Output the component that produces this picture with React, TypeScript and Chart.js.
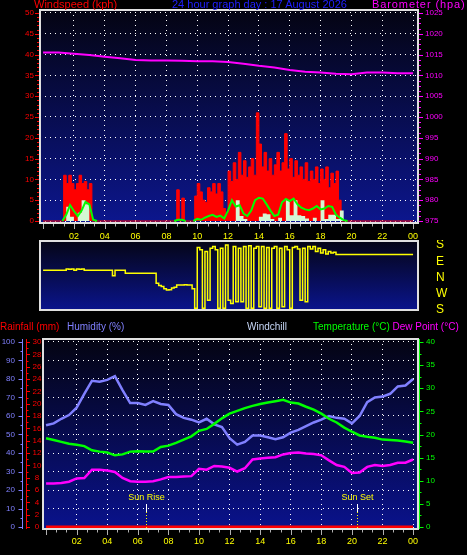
import React, { useEffect, useRef } from "react";
import { Chart, registerables } from "chart.js";

Chart.register(...registerables);

const FONT = '"Liberation Sans", Arial, sans-serif';

// ---------- DATA ----------
const TITLE_WIND = "Windspeed (kph)";
const TITLE_DATE = "24 hour graph day : 17 August 2026";
const TITLE_BARO = "Barometer (hpa)";
const TITLE_RAIN = "Rainfall (mm)";
const TITLE_HUM = "Humidity (%)";
const TITLE_CHILL = "Windchill";
const TITLE_TEMP = "Temperature (°C)";
const TITLE_DEW = "Dew Point (°C)";

// wind gust, one value per 10 minutes (00:00 .. 24:00)
const WIND_GUST = [
  0, 0, 0, 0, 0, 0, 0, 0, 0,
  11, 9, 11, 9, 7.5, 9, 11, 9, 9.5, 7.5, 9,
  0, 0, 0, 0, 0, 0, 0, 0, 0, 0, 0, 0, 0, 0, 0, 0, 0, 0, 0, 0, 0, 0, 0, 0, 0, 0, 0, 0, 0, 0, 0, 0, 0,
  7.5, 0, 5.5,
  0, 0, 0, 0,
  6, 9, 7, 5, 4.5, 8, 7, 9, 6.5, 9,
  7, 3, 1.5, 12, 9.5, 14, 10, 16.5, 11, 14.5,
  10.5, 13, 15, 11, 26, 18.5, 13, 16.5, 12, 15,
  11, 13.5, 16.5, 12, 14, 21, 12.5, 15, 10.5, 14.5,
  11, 13, 10, 14, 9.5, 12, 10, 13, 9, 12.5,
  10, 13, 8, 11.5, 9, 12, 5,
  0, 0, 0, 0, 0, 0, 0, 0, 0, 0, 0, 0, 0, 0, 0, 0, 0, 0, 0, 0, 0, 0, 0, 0, 0, 0, 0, 0,
];
// average wind, one value per 15 minutes
const WIND_AVG = [
  null, null, null, null, null, 0,
  1.5, 3.8, 2.4, 1.2, 2.5, 4.6, 4,
  0.3, 0,
  null, null, null, null, null, null, null, null, null, null, null, null, null, null, null, null, null, null, null,
  0, 0.3, 0.3, 0, null, 0,
  0.5, 0.3, 0.8, 1.2, 1.5, 1.0, 1.3, 0.6, 2.5, 5.0,
  3.5, 3.8, 1.8, 1.2, 2.5, 5.0, 5.6, 5.4, 4.0, 2.5,
  1.2, 1.5, 4.5, 5.3, 4.8, 5.4, 4.0, 3.2, 2.8, 2.6,
  3.0, 3.6, 2.8, 3.0, 3.6, 3.4, 1.5, 0.8,
  0.2, 0,
  null, null, null, null, null, null, null, null, null, null, null, null, null, null, null, null, null,
];
// wind speed, one value per 15 minutes
const WIND_SPEED = [
  0, 0, 0, 0, 0, 0, 0,
  3.4, 1, 0, 2, 5, 4,
  0, 0, 0, 0, 0, 0, 0, 0, 0, 0, 0, 0, 0, 0, 0, 0, 0, 0, 0, 0, 0, 0,
  0, 0, 0, 0, 0, 0, 0, 0, 0, 0, 0, 0, 0, 0, 0, 0,
  5, 1.2, 0.5, 0, 0, 0, 1.0, 1.8, 1.6, 0.5,
  0, 0.8, 0, 5, 1.4, 5, 1.4, 1.2, 0.6, 0,
  0.8, 0, 5, 0.5, 1.5, 1.5, 0.5, 2.5, 0,
  0, 0, 0, 0, 0, 0, 0, 0, 0, 0, 0, 0, 0, 0, 0, 0, 0, 0, 0,
];
// barometer, hourly
const BAROMETER = [
  1015.5, 1015.5, 1015.2, 1014.9, 1014.5, 1014.1, 1013.7, 1013.6, 1013.6, 1013.5,
  1013.4, 1013.4, 1013.2, 1012.8, 1012.3, 1011.9, 1011.3, 1010.9, 1010.7, 1010.4,
  1010.3, 1010.7, 1010.7, 1010.5, 1010.5,
];
// wind direction, every 10 minutes; 0 = S, 1 = W, 2 = N, 3 = E, 4 = S
const DIR_LABELS = ["S", "W", "N", "E", "S"];
const WIND_DIR = [
  2.45, 2.45, 2.45, 2.45, 2.45, 2.45, 2.45, 2.45, 2.45, 2.45,
  2.52, 2.5, 2.52, 2.45, 2.52, 2.5, 2.52, 2.45,
  2.45, 2.45, 2.45, 2.45, 2.45, 2.45, 2.45, 2.45, 2.45, 2.45,
  2.1,
  2.45, 2.45, 2.45, 2.45,
  2.26, 2.26, 2.26, 2.26, 2.26, 2.26, 2.26, 2.26, 2.26, 2.26, 2.26, 2.26,
  1.64, 1.5, 1.45, 1.3, 1.23, 1.25, 1.35, 1.4, 1.54, 1.54, 1.54, 1.56, 1.54, 1.54, 1.3, 0.1,
  3.85, 3.7, 0.1, 3.6, 0.6, 3.8, 3.9, 3.7, 0.1, 3.8, 0.1, 4.0,
  0.6, 0.4, 3.9, 0.5, 3.8, 0.5,
  3.9, 0.1, 3.95, 0.1, 3.8, 3.9, 0.2, 3.9, 0.1, 3.85, 0.1, 3.8, 3.9, 0.1, 3.8, 0.2,
  3.9, 3.7, 0.1, 3.85, 3.9, 3.75, 0.6, 3.8, 0.5,
  3.9, 3.75, 3.9, 3.6, 3.8, 3.5, 3.7, 3.45, 3.6, 3.5, 3.55, 3.42,
  3.42, 3.42, 3.42, 3.42, 3.42, 3.42, 3.42, 3.42, 3.42, 3.42,
  3.42, 3.42, 3.42, 3.42, 3.42, 3.42, 3.42, 3.42, 3.42, 3.42,
  3.42, 3.42, 3.42, 3.42, 3.42, 3.42, 3.42, 3.42, 3.42,
];
// bottom chart, every 30 minutes
const HUMIDITY = [
  55, 56, 58.5, 60.5, 64.5, 72, 79, 78.5, 79.5, 81.5,
  74, 67, 67, 66, 68, 66.5, 66, 61, 59, 58,
  56.5, 58.5, 55.5, 54, 48, 44.5, 46, 49.5, 49.5, 48.5,
  47.5, 48.5, 51, 52.5, 54.5, 56.5, 58, 60, 59, 58.5,
  56, 60, 67.5, 70, 70.5, 72, 76, 76.5, 80,
];
const TEMPERATURE = [
  19.2, 18.8, 18.4, 18.0, 17.8, 17.5, 16.6, 16.3, 16.1, 15.5,
  15.7, 16.3, 16.4, 16.3, 16.3, 17.3, 17.6, 18.2, 18.9, 19.6,
  20.8, 21.2, 22.3, 23.5, 24.5, 25.1, 25.7, 26.2, 26.6, 26.9,
  27.2, 27.5, 26.9, 26.7, 26.0, 25.4, 24.5, 23.4, 22.6, 21.5,
  20.6, 19.8, 19.5, 19.3, 18.9, 18.8, 18.7, 18.5, 18.2,
];
const DEW_POINT = [
  9.4, 9.4, 9.5, 9.8, 10.5, 10.6, 12.4, 12.4, 12.2, 11.9,
  10.6, 9.9, 9.8, 9.8, 9.9, 10.3, 10.8, 10.8, 10.9, 11.0,
  12.6, 12.4, 13.2, 13.1, 12.8, 12.0, 12.7, 14.6, 14.8, 15.0,
  15.1, 15.7, 16.0, 16.1, 15.9, 15.8, 15.5, 14.4, 13.4, 13.0,
  11.7, 11.8, 13.0, 13.4, 13.2, 13.4, 13.9, 13.9, 14.6,
];
// rainfall, hourly
const RAINFALL = [0, 0, 0, 0, 0, 0, 0, 0, 0, 0, 0, 0, 0, 0, 0, 0, 0, 0, 0, 0, 0, 0, 0, 0, 0];
const SUN_EVENTS = [
  { h: 6.52, text: "Sun Rise" },
  { h: 20.32, text: "Sun Set" },
];

// ---------- HELPERS ----------
const toPoints = (vals: (number | null)[], perHour: number) =>
  vals.map((y, i) => ({ x: i / perHour, y }));

const X_MIN = -0.2;
const X_MAX = 24.32;
const HOUR_TICKS = Array.from({ length: 37 }, (_, k) => (k * 2) / 3);

const evenHour = (v: number) => {
  const r = Math.round(v);
  return Math.abs(v - r) < 1e-6 && r % 2 === 0 && r > 0;
};
const hourLabel = (v: any) => {
  const n = Number(v);
  if (!evenHour(n)) return "";
  return String(Math.round(n) % 24).padStart(2, "0");
};
const plainLabel = (v: any) => String(Math.round(Number(v) * 100) / 100);

const noPad = (s: any) => {
  s.paddingTop = 0;
  s.paddingBottom = 0;
  s.paddingLeft = 0;
  s.paddingRight = 0;
};

interface Mark {
  scale: string;
  edge: "left" | "right" | "top" | "bottom";
  offset: number;
  dir: number;
  color: string;
  from: number;
  to: number;
  step: number;
  majorEvery: number;
  major: number;
  minor: number;
  line?: boolean;
}

function makeDeco(cfg: {
  bgTop: string;
  bgBottom: string;
  frame: string;
  marks: Mark[];
  suns?: { h: number; text: string }[];
}) {
  return {
    id: "deco",
    beforeDraw(chart: any) {
      const { ctx, chartArea: a } = chart;
      const g = ctx.createLinearGradient(0, a.top, 0, a.bottom);
      g.addColorStop(0, cfg.bgTop);
      g.addColorStop(1, cfg.bgBottom);
      ctx.save();
      ctx.fillStyle = g;
      ctx.fillRect(a.left, a.top, a.right - a.left, a.bottom - a.top);
      ctx.restore();
    },
    afterDraw(chart: any) {
      const { ctx, chartArea: a } = chart;
      ctx.save();
      ctx.lineWidth = 1;
      ctx.setLineDash([]);
      for (const m of cfg.marks) {
        const s: any = chart.scales[m.scale];
        if (!s) continue;
        const horiz = s.isHorizontal();
        let base =
          m.edge === "left" ? s.left : m.edge === "right" ? s.right : m.edge === "top" ? s.top : s.bottom;
        base += m.offset;
        ctx.strokeStyle = m.color;
        ctx.beginPath();
        if (m.line) {
          if (horiz) {
            ctx.moveTo(a.left, base);
            ctx.lineTo(a.right, base);
          } else {
            ctx.moveTo(base, a.top);
            ctx.lineTo(base, a.bottom);
          }
        }
        const n = Math.round((m.to - m.from) / m.step);
        for (let k = 0; k <= n; k++) {
          const v = m.from + k * m.step;
          const p = Math.round(s.getPixelForValue(v)) + 0.5;
          const len = k % m.majorEvery === 0 ? m.major : m.minor;
          if (horiz) {
            ctx.moveTo(p, base);
            ctx.lineTo(p, base + m.dir * len);
          } else {
            ctx.moveTo(base, p);
            ctx.lineTo(base + m.dir * len, p);
          }
        }
        ctx.stroke();
      }
      if (cfg.suns) {
        const xs: any = chart.scales.x;
        for (const sm of cfg.suns) {
          const x = Math.round(xs.getPixelForValue(sm.h)) + 0.5;
          ctx.setLineDash([]);
          ctx.strokeStyle = "#ffffff";
          ctx.beginPath();
          ctx.moveTo(x, a.bottom - 25);
          ctx.lineTo(x, a.bottom - 17);
          ctx.stroke();
          ctx.strokeStyle = "#ffff00";
          ctx.setLineDash([1, 2]);
          ctx.beginPath();
          ctx.moveTo(x, a.bottom - 17);
          ctx.lineTo(x, a.bottom);
          ctx.stroke();
          ctx.setLineDash([]);
          ctx.fillStyle = "#ffff00";
          ctx.font = `9px ${FONT}`;
          ctx.textAlign = "center";
          ctx.textBaseline = "middle";
          ctx.fillText(sm.text, x, a.bottom - 31);
        }
      }
      ctx.setLineDash([]);
      ctx.strokeStyle = cfg.frame;
      ctx.lineWidth = 2;
      ctx.strokeRect(a.left, a.top, a.right - a.left, a.bottom - a.top);
      ctx.restore();
    },
  };
}

const xAxis = (height: number, padding: number) => ({
  type: "linear",
  min: X_MIN,
  max: X_MAX,
  afterBuildTicks: (s: any) => {
    s.ticks = HOUR_TICKS.map((v) => ({ value: v }));
  },
  afterFit: (s: any) => {
    s.height = height;
    noPad(s);
  },
  grid: {
    color: (c: any) => (c.tick && evenHour(c.tick.value) ? "#ffffff" : "rgba(0,0,0,0)"),
    lineWidth: 1,
    drawTicks: false,
  },
  border: { display: false, dash: [1, 4] },
  ticks: {
    color: "#ffff00",
    font: { size: 9, family: FONT },
    padding,
    autoSkip: false,
    maxRotation: 0,
    callback: hourLabel,
  },
});

const xMarks = (): Mark => ({
  scale: "x",
  edge: "top",
  offset: 1,
  dir: 1,
  color: "#b0b0b0",
  from: 0,
  to: 24,
  step: 2 / 3,
  majorEvery: 3,
  major: 5,
  minor: 2.5,
});

const yAxis = (position: string, width: number, min: number, max: number, step: number, color: string, padding: number, extra: any = {}) => ({
  position,
  min,
  max,
  afterFit: (s: any) => {
    s.width = width;
    noPad(s);
  },
  ticks: { stepSize: step, includeBounds: false, color, font: { size: 8, family: FONT }, padding, callback: plainLabel, ...(extra.ticks || {}) },
  grid: extra.grid || { display: false, drawTicks: false },
  border: extra.border || { display: false },
  weight: extra.weight || 0,
});

function topConfig(): any {
  return {
    type: "line",
    data: {
      datasets: [
        {
          data: toPoints(WIND_AVG, 4),
          borderColor: "#00ff00",
          borderWidth: 2,
          pointRadius: 0,
          fill: false,
          spanGaps: false,
          yAxisID: "y",
          order: 0,
        },
        {
          data: toPoints(WIND_SPEED, 4),
          borderColor: "rgba(0,0,0,0)",
          borderWidth: 0,
          backgroundColor: "#d4f8d4",
          fill: "origin",
          stepped: "after",
          pointRadius: 0,
          yAxisID: "y",
          order: 1,
        },
        {
          data: toPoints(WIND_GUST, 6),
          borderColor: "#ff0000",
          backgroundColor: "#ff0000",
          borderWidth: 1,
          fill: "origin",
          stepped: "after",
          pointRadius: 0,
          yAxisID: "y",
          order: 2,
        },
        {
          data: toPoints(BAROMETER, 1),
          borderColor: "#ff00ff",
          borderWidth: 2,
          pointRadius: 0,
          fill: false,
          yAxisID: "yB",
          order: 3,
        },
      ],
    },
    options: {
      responsive: false,
      animation: false,
      events: [],
      layout: { padding: { top: 10, left: 0, right: 0, bottom: 0 } },
      plugins: { legend: { display: false }, tooltip: { enabled: false } },
      scales: {
        x: xAxis(17, 8),
        y: yAxis("left", 40, -0.48, 50.72, 5, "#ff0000", 6, {
          grid: { color: "#ffffff", lineWidth: 1, drawTicks: false },
          border: { display: false, dash: [1, 4] },
        }),
        yB: yAxis("right", 49, 974.52, 1025.72, 5, "#ff00ff", 7),
      },
    },
    plugins: [
      makeDeco({
        bgTop: "#040412",
        bgBottom: "#0c168e",
        frame: "#e0e0e0",
        marks: [
          xMarks(),
          { scale: "y", edge: "right", offset: -1, dir: -1, color: "#ff0000", from: 0, to: 50, step: 1, majorEvery: 5, major: 4, minor: 2 },
          { scale: "yB", edge: "left", offset: 1, dir: 1, color: "#ff00ff", from: 975, to: 1025, step: 1.25, majorEvery: 4, major: 4, minor: 2 },
        ],
      }),
    ],
  };
}

function dirConfig(): any {
  return {
    type: "line",
    data: {
      datasets: [
        {
          data: toPoints(WIND_DIR, 6),
          borderColor: "#ffff00",
          borderWidth: 1.5,
          pointRadius: 0,
          fill: false,
          stepped: "after",
        },
      ],
    },
    options: {
      responsive: false,
      animation: false,
      events: [],
      layout: { padding: { top: 1, left: 40, right: 0, bottom: 10 } },
      plugins: { legend: { display: false }, tooltip: { enabled: false } },
      scales: {
        x: { type: "linear", min: X_MIN, max: X_MAX, display: false },
        y: {
          position: "right",
          min: 0,
          max: 4.246,
          afterFit: (s: any) => {
            s.width = 49;
            noPad(s);
          },
          afterBuildTicks: (s: any) => {
            s.ticks = DIR_LABELS.map((_, i) => ({ value: i }));
          },
          ticks: {
            color: "#ffff00",
            font: { size: 12, family: FONT },
            padding: 18,
            autoSkip: false,
            callback: (v: any) => DIR_LABELS[Math.round(Number(v))] ?? "",
          },
          grid: { display: false, drawTicks: false },
          border: { display: false },
        },
      },
    },
    plugins: [makeDeco({ bgTop: "#050516", bgBottom: "#0a148c", frame: "#e0e0e0", marks: [] })],
  };
}

function bottomConfig(): any {
  return {
    type: "line",
    data: {
      datasets: [
        { data: toPoints(TEMPERATURE, 2), borderColor: "#00ff00", borderWidth: 2.5, pointRadius: 0, fill: false, yAxisID: "yT", order: 0 },
        { data: toPoints(DEW_POINT, 2), borderColor: "#ff00ff", borderWidth: 2.5, pointRadius: 0, fill: false, yAxisID: "yT", order: 1 },
        { data: toPoints(HUMIDITY, 2), borderColor: "#8080ff", borderWidth: 2.5, pointRadius: 0, fill: false, yAxisID: "yH", order: 2 },
        { data: toPoints(RAINFALL, 1), borderColor: "#ff0000", borderWidth: 3, pointRadius: 0, fill: false, yAxisID: "yR", order: 3 },
      ],
    },
    options: {
      responsive: false,
      animation: false,
      events: [],
      layout: { padding: { top: 21, left: 0, right: 0, bottom: 0 } },
      plugins: { legend: { display: false }, tooltip: { enabled: false } },
      scales: {
        x: xAxis(26, 7.5),
        yH: yAxis("left", 23, -1.08, 101.62, 10, "#8080ff", 8, {
          weight: 1,
          grid: { color: "#ffffff", lineWidth: 1, drawTicks: false },
          border: { display: false, dash: [1, 4] },
        }),
        yR: yAxis("left", 20, -0.32, 30.49, 2, "#ff0000", 1.5, { weight: 0, ticks: { crossAlign: "center" } }),
        yT: yAxis("right", 49, -0.43, 40.65, 5, "#00ff00", 8),
      },
    },
    plugins: [
      makeDeco({
        bgTop: "#040412",
        bgBottom: "#0a128c",
        frame: "#e0e0e0",
        suns: SUN_EVENTS,
        marks: [
          xMarks(),
          { scale: "yH", edge: "right", offset: -0.5, dir: -1, color: "#8080ff", from: 0, to: 100, step: 5, majorEvery: 2, major: 4, minor: 2, line: true },
          { scale: "yR", edge: "left", offset: 3.5, dir: 1, color: "#ff0000", from: 0, to: 30, step: 1, majorEvery: 2, major: 3.5, minor: 2, line: true },
          { scale: "yT", edge: "left", offset: 1.5, dir: 1, color: "#00ff00", from: 0, to: 40, step: 2.5, majorEvery: 2, major: 4, minor: 2, line: true },
        ],
      }),
    ],
  };
}

const label = (text: string, left: number, top: number, color: string, size: number, extra: any = {}) => (
  <span
    style={{
      position: "absolute",
      left,
      top,
      color,
      fontFamily: FONT,
      fontSize: size,
      lineHeight: `${size}px`,
      whiteSpace: "nowrap",
      ...extra,
    }}
  >
    {text}
  </span>
);

export default function App() {
  const topRef = useRef<HTMLCanvasElement>(null);
  const dirRef = useRef<HTMLCanvasElement>(null);
  const botRef = useRef<HTMLCanvasElement>(null);

  useEffect(() => {
    document.body.style.margin = "0";
    document.body.style.background = "#000";
    const charts: Chart[] = [];
    if (topRef.current) charts.push(new Chart(topRef.current, topConfig()));
    if (dirRef.current) charts.push(new Chart(dirRef.current, dirConfig()));
    if (botRef.current) charts.push(new Chart(botRef.current, bottomConfig()));
    return () => charts.forEach((c) => c.destroy());
  }, []);

  return (
    <div
      style={{
        position: "fixed",
        left: 0,
        top: 0,
        width: 467,
        height: 555,
        background: "#000",
        overflow: "hidden",
      }}
    >
      <canvas ref={topRef} width={467} height={240} style={{ position: "absolute", left: 0, top: 0 }} />
      <canvas ref={dirRef} width={467} height={80} style={{ position: "absolute", left: 0, top: 240 }} />
      <canvas ref={botRef} width={467} height={237} style={{ position: "absolute", left: 0, top: 318 }} />
      {label(TITLE_WIND, 34, -1, "#ff0000", 11)}
      {label(TITLE_DATE, 172, -1, "#2020ff", 11)}
      {label(TITLE_BARO, 372, -1, "#ff00ff", 11, { letterSpacing: "0.9px" })}
      {label(TITLE_RAIN, 0, 321.5, "#ff0000", 10)}
      {label(TITLE_HUM, 67, 321.5, "#8080ff", 10)}
      {label(TITLE_CHILL, 247, 321.5, "#c8d8f8", 10)}
      {label(TITLE_TEMP, 313, 321.5, "#00ff00", 10)}
      {label(TITLE_DEW, 392.5, 321.5, "#ff00ff", 10)}
    </div>
  );
}
